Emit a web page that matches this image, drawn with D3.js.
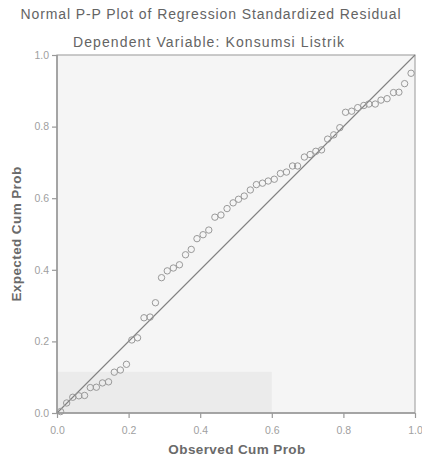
<!DOCTYPE html>
<html>
  <head>
    <meta charset="UTF-8">
    <title>Normal P-P Plot</title>
    <script src="https://d3js.org/d3.v7.min.js"></script>
    <style>
      body { margin: 0; background: #fff; }
      text { font-family: Arial, "Liberation Sans", sans-serif; }
    </style>
  </head>
  <body>
    <div id="chart"></div>
  </body>

  <script>
    var width = 422,
        height = 458;

    var margin = {top: 55, right: 7, bottom: 45, left: 57};

//data
    var observed = [0.010, 0.027, 0.044, 0.061, 0.077, 0.093, 0.110, 0.127, 0.144, 0.160,
                    0.177, 0.194, 0.209, 0.225, 0.243, 0.260, 0.275, 0.292, 0.308, 0.325,
                    0.342, 0.359, 0.375, 0.391, 0.408, 0.424, 0.441, 0.458, 0.475, 0.492,
                    0.507, 0.523, 0.540, 0.557, 0.574, 0.590, 0.607, 0.624, 0.641, 0.658,
                    0.672, 0.691, 0.707, 0.723, 0.739, 0.756, 0.773, 0.790, 0.806, 0.823,
                    0.840, 0.857, 0.871, 0.889, 0.905, 0.922, 0.940, 0.955, 0.971, 0.989];

    var expected = [0.004, 0.028, 0.044, 0.048, 0.049, 0.071, 0.072, 0.084, 0.087, 0.114,
                    0.120, 0.136, 0.204, 0.210, 0.266, 0.268, 0.308, 0.378, 0.397, 0.405,
                    0.414, 0.442, 0.457, 0.487, 0.498, 0.511, 0.547, 0.553, 0.571, 0.587,
                    0.597, 0.606, 0.623, 0.638, 0.642, 0.648, 0.653, 0.669, 0.673, 0.690,
                    0.690, 0.715, 0.722, 0.731, 0.735, 0.765, 0.777, 0.797, 0.840, 0.843,
                    0.853, 0.859, 0.863, 0.863, 0.874, 0.878, 0.895, 0.896, 0.920, 0.949];

    var tickValues = [0, 0.2, 0.4, 0.6, 0.8, 1.0];
    var refLine = [[0, 0], [1, 1]];

    var points = observed.map(function(d, i) { return [d, expected[i]]; });

    var svg = d3.select("#chart")
                .append("svg")
                .attr("width", width)
                .attr("height", height);

    var xScale = d3.scaleLinear()
                   .domain([0, 1])
                   .range([margin.left, width - margin.right]);
    var yScale = d3.scaleLinear()
                   .domain([0, 1])
                   .range([height - margin.bottom, margin.top]);

//plot background
    svg.append("rect")
       .attr("x", xScale(0))
       .attr("y", yScale(1))
       .attr("width", xScale(1) - xScale(0))
       .attr("height", yScale(0) - yScale(1))
       .attr("fill", "#f5f5f5");

// faint watermark band at the bottom
    svg.append("rect")
       .attr("x", xScale(0))
       .attr("y", yScale(0.115))
       .attr("width", xScale(0.6) - xScale(0))
       .attr("height", yScale(0) - yScale(0.115))
       .attr("fill", "#ebebeb");

//axes
    var XAxis = d3.axisBottom(xScale)
                  .tickValues(tickValues)
                  .tickSize(5)
                  .tickFormat(d3.format(".1f"));
    var YAxis = d3.axisLeft(yScale)
                  .tickValues(tickValues)
                  .tickSize(5)
                  .tickFormat(d3.format(".1f"));

    var gx = svg.append("g")
                .attr("transform", "translate(0," + yScale(0) + ")")
                .call(XAxis);
    var gy = svg.append("g")
                .attr("transform", "translate(" + xScale(0) + ",0)")
                .call(YAxis);

    [gx, gy].forEach(function(g) {
      g.select(".domain").remove();
      g.selectAll("line").attr("stroke", "#999").attr("stroke-width", 1.2);
      g.selectAll("text")
       .attr("fill", "#a0a0a0")
       .attr("font-size", 10.5)
       .attr("font-family", "Arial, 'Liberation Sans', sans-serif");
    });
    gx.selectAll("text").attr("dy", "1.2em");

//frame
    svg.append("rect")
       .attr("x", xScale(0))
       .attr("y", yScale(1))
       .attr("width", xScale(1) - xScale(0))
       .attr("height", yScale(0) - yScale(1))
       .attr("fill", "none")
       .attr("stroke", "#a8a8a8")
       .attr("stroke-width", 1.2);
    svg.append("line")
       .attr("x1", xScale(0)).attr("x2", xScale(1))
       .attr("y1", yScale(0)).attr("y2", yScale(0))
       .attr("stroke", "#999").attr("stroke-width", 1.5);
    svg.append("line")
       .attr("x1", xScale(0)).attr("x2", xScale(0))
       .attr("y1", yScale(0)).attr("y2", yScale(1))
       .attr("stroke", "#999").attr("stroke-width", 1.5);

//reference line
    var linePath = d3.line()
                     .x(function(d) { return xScale(d[0]); })
                     .y(function(d) { return yScale(d[1]); });
    svg.append("path")
       .attr("d", linePath(refLine))
       .attr("fill", "none")
       .attr("stroke", "#808080")
       .attr("stroke-width", 1.1);

//points
    svg.append("g")
       .selectAll("circle")
       .data(points)
       .enter()
       .append("circle")
       .attr("cx", function(d) { return xScale(d[0]); })
       .attr("cy", function(d) { return yScale(d[1]); })
       .attr("r", 3.2)
       .attr("fill", "none")
       .attr("stroke", "#999")
       .attr("stroke-width", 1);

//titles
    svg.append("text")
       .attr("x", 211)
       .attr("y", 19)
       .attr("text-anchor", "middle")
       .attr("font-size", 14)
       .attr("letter-spacing", 0.9)
       .attr("fill", "#646464")
       .text("Normal P-P Plot of Regression Standardized Residual");

    svg.append("text")
       .attr("x", 209)
       .attr("y", 47)
       .attr("text-anchor", "middle")
       .attr("font-size", 14)
       .attr("letter-spacing", 1.1)
       .attr("fill", "#646464")
       .text("Dependent Variable: Konsumsi Listrik");

    svg.append("text")
       .attr("x", 237)
       .attr("y", 454)
       .attr("text-anchor", "middle")
       .attr("font-size", 13.5)
       .attr("font-weight", "bold")
       .attr("letter-spacing", 0.4)
       .attr("fill", "#6a6a6a")
       .text("Observed Cum Prob");

    svg.append("text")
       .attr("transform", "translate(21," + yScale(0.5) + ") rotate(-90)")
       .attr("text-anchor", "middle")
       .attr("font-size", 13.5)
       .attr("font-weight", "bold")
       .attr("letter-spacing", 0.4)
       .attr("fill", "#6a6a6a")
       .text("Expected Cum Prob");
  </script>
</html>
